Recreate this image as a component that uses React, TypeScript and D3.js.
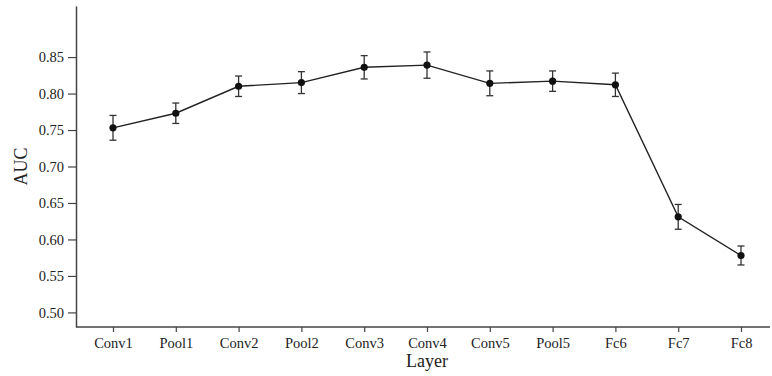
import { useEffect, useRef } from "react"
import * as d3 from "d3"

const layers = ["Conv1", "Pool1", "Conv2", "Pool2", "Conv3", "Conv4", "Conv5", "Pool5", "Fc6", "Fc7", "Fc8"]
const auc = [0.753, 0.773, 0.81, 0.815, 0.836, 0.839, 0.814, 0.817, 0.812, 0.631, 0.578]
const aucErr = [0.017, 0.014, 0.014, 0.015, 0.016, 0.018, 0.017, 0.014, 0.016, 0.017, 0.013]
const yTicks = [0.5, 0.55, 0.6, 0.65, 0.7, 0.75, 0.8, 0.85]

const App = () => {
  const svgRef = useRef<SVGSVGElement | null>(null)

  useEffect(() => {
    if (!svgRef.current) return
    const svg = d3.select(svgRef.current)
    svg.selectAll("*").remove()

    const left = 76
    const bottom = 327
    const top = 6
    const right = 770
    const font = "'Liberation Serif', 'Times New Roman', serif"

    const x = d3.scalePoint<string>().domain(layers).range([113, 741])
    const y = d3.scaleLinear().domain([0.48, 0.92]).range([bottom, top])

    // Y axis
    const yAxis = svg
      .append("g")
      .attr("transform", `translate(${left},0)`)
      .call(
        d3
          .axisLeft(y)
          .tickValues(yTicks)
          .tickSize(8)
          .tickPadding(4)
          .tickSizeOuter(0)
          .tickFormat((d) => d3.format(".2f")(d as number)),
      )
    yAxis.select(".domain").attr("stroke", "#444").attr("stroke-width", 1.5)
    yAxis.selectAll(".tick line").attr("stroke", "#444").attr("stroke-width", 1.2)
    yAxis.selectAll("text").style("font-family", font).style("font-size", "14.5px").attr("fill", "#222")

    // X axis
    const xAxis = svg
      .append("g")
      .attr("transform", `translate(0,${bottom})`)
      .call(d3.axisBottom(x).tickSize(5).tickPadding(6).tickSizeOuter(0))
    xAxis.select(".domain").attr("d", `M${left},0H${right}`).attr("stroke", "#444").attr("stroke-width", 1.5)
    xAxis.selectAll(".tick line").attr("stroke", "#444").attr("stroke-width", 1.2)
    xAxis.selectAll("text").style("font-family", font).style("font-size", "14.5px").attr("fill", "#222")

    // Axis titles
    svg
      .append("text")
      .attr("x", (113 + 741) / 2)
      .attr("y", 367)
      .attr("text-anchor", "middle")
      .style("font-family", font)
      .style("font-size", "18px")
      .attr("fill", "#222")
      .text("Layer")

    svg
      .append("text")
      .attr("transform", `translate(27,${(top + bottom) / 2}) rotate(-90)`)
      .attr("text-anchor", "middle")
      .style("font-family", font)
      .style("font-size", "18px")
      .attr("fill", "#222")
      .text("AUC")

    const data = layers.map((l, i) => ({ layer: l, v: auc[i], e: aucErr[i] }))

    // Line
    const line = d3
      .line<{ layer: string; v: number }>()
      .x((d) => x(d.layer)!)
      .y((d) => y(d.v))
    svg
      .append("path")
      .datum(data)
      .attr("fill", "none")
      .attr("stroke", "#222")
      .attr("stroke-width", 1.4)
      .attr("d", line)

    // Error bars
    const eb = svg.append("g").attr("stroke", "#333").attr("stroke-width", 1.3)
    data.forEach((d) => {
      const cx = x(d.layer)!
      const y1 = y(d.v + d.e)
      const y2 = y(d.v - d.e)
      eb.append("line").attr("x1", cx).attr("x2", cx).attr("y1", y1).attr("y2", y2)
      eb.append("line").attr("x1", cx - 3.5).attr("x2", cx + 3.5).attr("y1", y1).attr("y2", y1)
      eb.append("line").attr("x1", cx - 3.5).attr("x2", cx + 3.5).attr("y1", y2).attr("y2", y2)
    })

    // Points
    svg
      .append("g")
      .selectAll("circle")
      .data(data)
      .join("circle")
      .attr("cx", (d) => x(d.layer)!)
      .attr("cy", (d) => y(d.v))
      .attr("r", 3.6)
      .attr("fill", "#111")
  }, [])

  return (
    <div style={{ position: "absolute", left: 0, top: 0 }}>
      <svg ref={svgRef} width={772} height={376} style={{ display: "block", background: "#fff" }} />
    </div>
  )
}

export default App
